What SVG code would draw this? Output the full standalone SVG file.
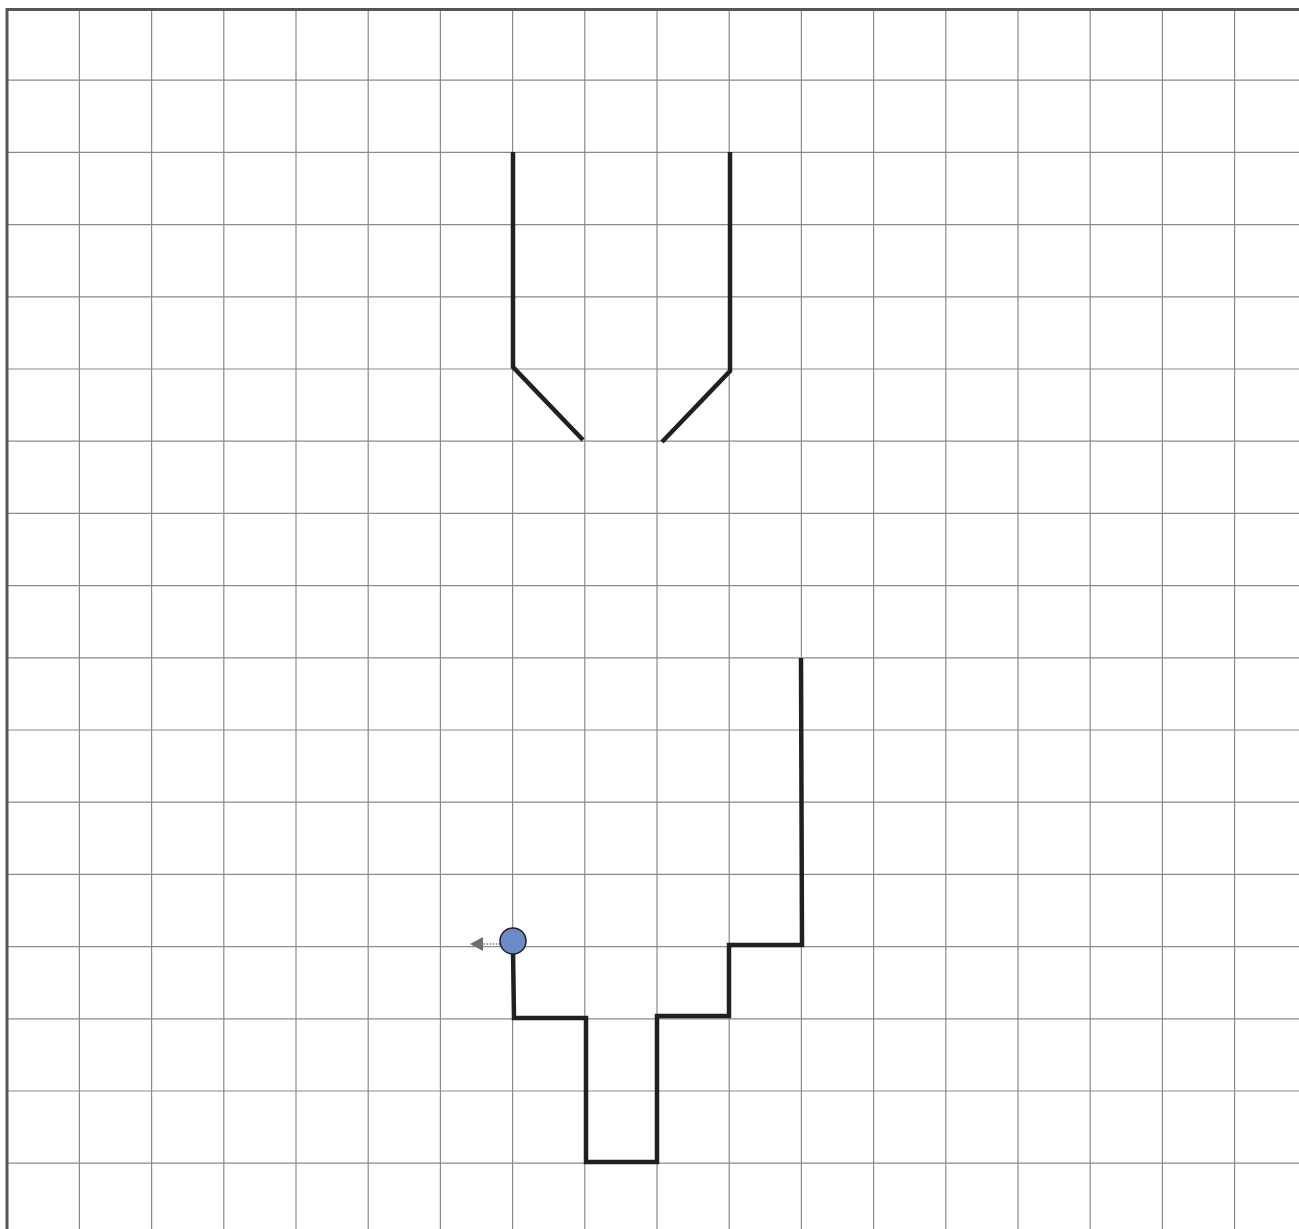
<svg xmlns="http://www.w3.org/2000/svg" width="1299" height="1229" viewBox="0 0 1299 1229">
<defs>
<style>
.g{stroke:#8a8a8a;stroke-width:1.2;fill:none}
.p{stroke:#231f20;stroke-width:4.5;fill:none;stroke-linejoin:miter}
</style>
<marker id="ah" viewBox="0 0 13 14" refX="0" refY="7" markerWidth="13" markerHeight="14" markerUnits="userSpaceOnUse" orient="auto">
<path d="M0,0 L13,7 L0,14 Z" fill="#6d6e70"/>
</marker>
</defs>
<rect width="1299" height="1229" fill="#fff"/>
<g id="grid">
<path class="g" d="M79.4,8V1229M151.6,8V1229M223.8,8V1229M296,8V1229M368.2,8V1229M440.4,8V1229M512.6,8V1229M584.8,8V1229M657,8V1229M729.2,8V1229M801.4,8V1229M873.6,8V1229M945.8,8V1229M1018,8V1229M1090.2,8V1229M1162.4,8V1229M1234.6,8V1229"/>
<path class="g" d="M7,80.2H1299M7,152.4H1299M7,224.6H1299M7,296.8H1299M7,369H1299M7,441.2H1299M7,513.4H1299M7,585.6H1299M7,657.8H1299M7,730H1299M7,802.2H1299M7,874.4H1299M7,946.6H1299M7,1018.8H1299M7,1091H1299M7,1163.2H1299"/>
<path d="M7,1229V9.5H1299" stroke="#555" stroke-width="3" fill="none"/>
</g>
<g id="connectors">
<polyline id="left-fork" class="p" points="513,152 513,367 583,440"/>
<polyline id="right-fork" class="p" points="730,152 730,371 662,442"/>
<polyline id="bottom-path" class="p" points="513,950 514,1018 586,1018 586,1162 657,1162 657,1016 729,1016 729,945 802,945 801,658"/>
<line x1="509" y1="944" x2="483" y2="944" stroke="#9a9a9a" stroke-width="2" stroke-dasharray="1.5,1.5" marker-end="url(#ah)"/>
</g>
<g id="node-circle">
<circle cx="513" cy="941" r="13" fill="#6a8bc8" stroke="#231f20" stroke-width="1.5"/>
</g>
</svg>
